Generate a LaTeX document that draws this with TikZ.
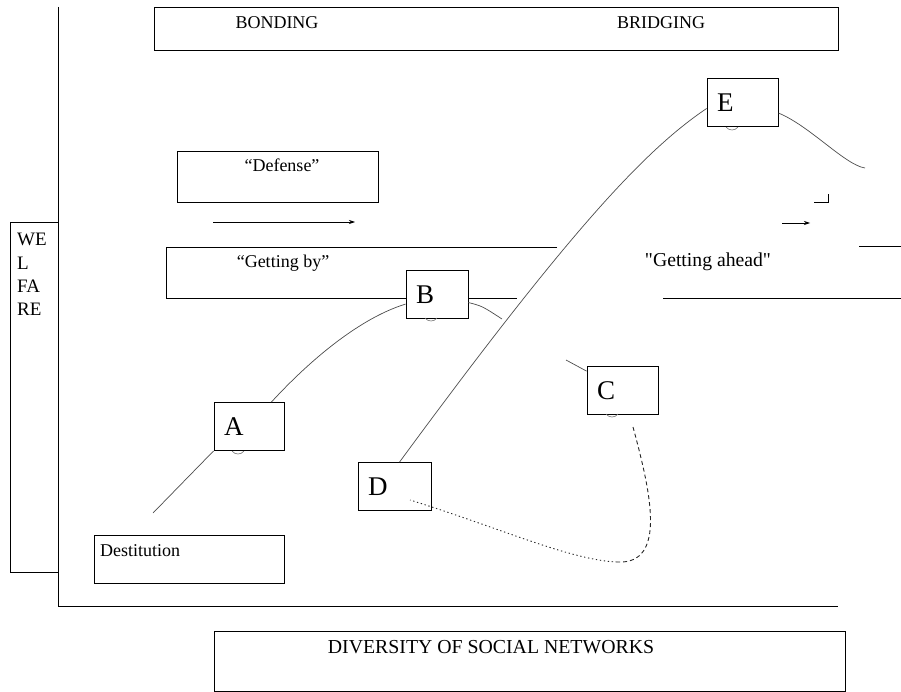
\documentclass[tikz,border=0pt]{standalone}
\usepackage{fontspec}
\setmainfont{Liberation Serif}
\newfontfamily\plainfont[Ligatures=ResetAll]{Liberation Serif}
\usetikzlibrary{arrows.meta,positioning}

\begin{document}
\begin{tikzpicture}[x=1pt, y=-1pt,
    box/.style={draw, fill=white, line width=0.8pt, inner sep=0pt},
    lbox/.style={box, minimum height=48, text width=#1, align=left, inner xsep=10pt,
      font=\fontsize{27}{30}\selectfont},
    lbl/.style={font=\fontsize{18}{22}\selectfont, anchor=base, inner sep=0pt},
    curve/.style={draw=black!70, line width=0.7pt},
    back/.style={draw=black!85, line width=0.9pt},
    flow/.style={-{Stealth[length=6pt,width=4pt]}, line width=0.7pt},
    smile/.style={draw=black!55, line width=0.6pt}]

  \useasboundingbox (0,0) rectangle (901,692);

  % Axes
  \coordinate (ytop) at (58,7);
  \coordinate (origin) at (58,606);
  \coordinate (xend) at (838,606);
  \draw[line width=0.8pt] (ytop) -- (origin) -- (xend);

  % Open boxes of the two zones
  \draw[line width=0.8pt] (557,247) -- (166,247) -- (166,298) -- (517,298);
  \draw[line width=0.8pt] (859,246) -- (901,246);
  \draw[line width=0.8pt] (663,298) -- (901,298);

  % Boxes
  \node[box, minimum width=48, minimum height=350] (welfare) at (34,397) {};
  \node[box, minimum width=684, minimum height=43] (zones) at (496,28.5) {};
  \node[box, minimum width=201, minimum height=51] (defbox) at (277.5,176.5) {};
  \node[box, minimum width=190, minimum height=48] (destbox) at (189,559) {};
  \node[box, minimum width=631, minimum height=60] (divbox) at (529.5,661) {};

  % Stages
  \node[lbox=50] (A) at (249,426.5) {A};
  \node[lbox=42] (B) at (437,294.5) {B};
  \node[lbox=51] (C) at (622.5,390.5) {C};
  \node[lbox=53] (D) at (394.5,486.5) {D};
  \node[lbox=51] (E) at (742.5,102.5) {E};

  % Curves
  \coordinate (start) at (153,513);
  \coordinate (gapl) at (502,319);
  \coordinate (gapr) at (566,360);
  \coordinate (tail) at (865,168);
  \draw[curve] (start) -- (A.south west);
  \draw[curve] (A) .. controls (310,360) and (360,318) .. (B);
  \draw[curve] (B) .. controls (482,306) .. (gapl);
  \draw[curve] (gapr) -- (C);
  \draw[curve] ([xshift=5pt]D.north) .. controls (570,230) and (645,150) .. ([yshift=-6pt]E.west);
  \draw[curve] ([yshift=-10.5pt]E.east) .. controls (810,126) and (845,165) .. (tail);

  \foreach \x/\y in {238/451, 431/318, 612/414, 732/127}
    \draw[smile] (\x-6,\y) .. controls (\x-3,\y+4) and (\x+3,\y+4) .. (\x+6,\y);

  % Way back from C to D
  \coordinate (cdash) at (633,427);
  \coordinate (low) at (617,562);
  \coordinate (dtip) at (410,500);
  \draw[back, dash pattern=on 4pt off 3pt] (cdash) .. controls (650,490) and (668,565) .. (low);
  \draw[back, dash pattern=on 1.3pt off 2.7pt] (low) .. controls (570,560) and (500,528) .. (dtip);

  % Arrows
  \coordinate (f1) at (213,222);
  \coordinate (f2) at (355,222);
  \coordinate (g1) at (782,223);
  \coordinate (g2) at (810,223);
  \draw[flow] (f1) -- (f2);
  \draw[flow] (g1) -- (g2);
  \draw[line width=0.8pt] (814,202) -- (828,202) -- (828,194);

  % Labels
  \node[lbl] (bonding) at (277,29) {BONDING};
  \node[lbl] (bridging) at (661,29) {BRIDGING};
  \node[lbl] (defense) at (282,172) {“Defense”};
  \node[lbl] (gettingby) at (283,268) {“Getting by”};
  \node[lbl, font=\plainfont\fontsize{19.7}{24}\selectfont] (ahead) at (708,267) {"Getting ahead"};
  \node[lbl, anchor=base west] (destitution) at (100,556) {Destitution};
  \node[lbl, font=\fontsize{19.8}{24}\selectfont] (diversity) at (491,653) {DIVERSITY OF SOCIAL NETWORKS};
  \foreach \t [count=\i from 0] in {WE,L,FA,RE}
    \node[lbl, font=\fontsize{19}{23}\selectfont, anchor=base west] (w\i) at (17,246+23.3*\i) {\t};

\end{tikzpicture}
\end{document}
